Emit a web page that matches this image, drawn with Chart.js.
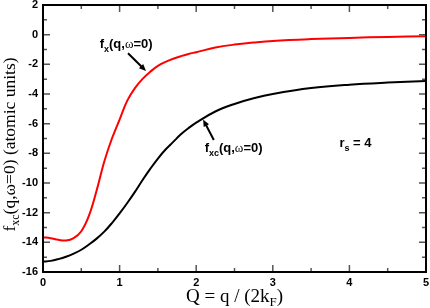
<!DOCTYPE html>
<html>
<head>
<meta charset="utf-8">
<script src="https://cdn.jsdelivr.net/npm/chart.js@4/dist/chart.umd.min.js"></script>
<style>
  html, body { margin: 0; padding: 0; background: #fff; }
  #wrap { width: 430px; height: 308px; position: relative; }
</style>
</head>
<body>
<div id="wrap"><canvas id="fxcChart"></canvas></div>
<script>
// values (Q = q / 2kF, atomic units)
const qValues = [0, 0.1, 0.2, 0.3, 0.4, 0.5, 0.6, 0.7, 0.8, 0.9, 1.0, 1.1, 1.2, 1.3, 1.4, 1.5, 1.6, 1.7, 1.8, 1.9, 2.0, 2.25, 2.5, 2.75, 3.0, 3.5, 4.0, 4.5, 5.0];
const fxValues = [-13.65, -13.72, -13.83, -13.88, -13.72, -13.25, -12.2, -10.5, -8.55, -7.0, -5.72, -4.45, -3.6, -2.98, -2.5, -2.1, -1.83, -1.62, -1.45, -1.3, -1.18, -0.87, -0.67, -0.53, -0.42, -0.3, -0.22, -0.15, -0.11];
const fxcValues = [-15.3, -15.25, -15.13, -14.97, -14.76, -14.5, -14.15, -13.75, -13.28, -12.7, -12.05, -11.35, -10.6, -9.8, -9.05, -8.35, -7.74, -7.23, -6.72, -6.3, -5.93, -5.18, -4.67, -4.29, -4.0, -3.6, -3.37, -3.23, -3.13];
const xTicks = [0, 1, 2, 3, 4, 5];
const yTicks = [2, 0, -2, -4, -6, -8, -10, -12, -14, -16];

const toPoints = (ys) => qValues.map((q, i) => ({ x: q, y: ys[i] }));

const serif = "'Liberation Serif', 'DejaVu Serif', serif";
const sans = "'Liberation Sans', Arial, sans-serif";

// draw a run of text pieces, some of them as subscripts
function drawRuns(ctx, x, y, runs) {
    runs.forEach(r => {
        ctx.font = r.font;
        const dy = r.sub ? r.sub : 0;
        ctx.fillText(r.t, x, y + dy);
        x += ctx.measureText(r.t).width;
    });
}

const frameAndTicks = {
    id: 'frameAndTicks',
    afterDraw(chart) {
        const { ctx, chartArea: a, scales } = chart;
        const xs = scales.x, ys = scales.y;
        ctx.save();

        // inward ticks on all four sides
        ctx.strokeStyle = '#555';
        ctx.lineWidth = 1.5;
        const xt = [];
        for (let v = 0; v <= 5; v += 0.5) xt.push(v);
        xt.forEach(v => {
            const px = xs.getPixelForValue(v);
            const len = Number.isInteger(v) ? 7 : 4;
            ctx.beginPath();
            ctx.moveTo(px, a.bottom); ctx.lineTo(px, a.bottom - len);
            ctx.moveTo(px, a.top); ctx.lineTo(px, a.top + len);
            ctx.stroke();
        });
        for (let v = -16; v <= 2; v += 1) {
            const py = ys.getPixelForValue(v);
            const len = v % 2 === 0 ? 7 : 4;
            ctx.beginPath();
            ctx.moveTo(a.left, py); ctx.lineTo(a.left + len, py);
            ctx.moveTo(a.right, py); ctx.lineTo(a.right - len, py);
            ctx.stroke();
        }

        // frame
        ctx.strokeStyle = '#000';
        ctx.lineWidth = 2;
        ctx.strokeRect(a.left, a.top, a.right - a.left, a.bottom - a.top);

        // arrows
        const arrow = (x0, y0, x1, y1) => {
            const p0 = [xs.getPixelForValue(x0), ys.getPixelForValue(y0)];
            const p1 = [xs.getPixelForValue(x1), ys.getPixelForValue(y1)];
            const ang = Math.atan2(p1[1] - p0[1], p1[0] - p0[0]);
            ctx.strokeStyle = '#000';
            ctx.fillStyle = '#000';
            ctx.lineWidth = 2;
            ctx.beginPath();
            ctx.moveTo(p0[0], p0[1]);
            ctx.lineTo(p1[0] - 4 * Math.cos(ang), p1[1] - 4 * Math.sin(ang));
            ctx.stroke();
            ctx.beginPath();
            ctx.moveTo(p1[0], p1[1]);
            ctx.lineTo(p1[0] - 7 * Math.cos(ang) + 3 * Math.sin(ang), p1[1] - 7 * Math.sin(ang) - 3 * Math.cos(ang));
            ctx.lineTo(p1[0] - 7 * Math.cos(ang) - 3 * Math.sin(ang), p1[1] - 7 * Math.sin(ang) + 3 * Math.cos(ang));
            ctx.closePath();
            ctx.fill();
        };
        arrow(1.11, -1.25, 1.345, -2.45);
        arrow(2.23, -7.1, 2.09, -5.72);

        // annotations
        ctx.fillStyle = '#000';
        ctx.textBaseline = 'alphabetic';
        ctx.textAlign = 'left';
        const b13 = 'bold 13px ' + sans, b9 = 'bold 9px ' + sans, om = '13px ' + serif;
        drawRuns(ctx, xs.getPixelForValue(0.74), ys.getPixelForValue(-0.91), [
            { t: 'f', font: b13 }, { t: 'x', font: b9, sub: 4 },
            { t: '(q,', font: b13 }, { t: 'ω', font: om }, { t: '=0)', font: b13 }
        ]);
        drawRuns(ctx, xs.getPixelForValue(2.11), ys.getPixelForValue(-7.88), [
            { t: 'f', font: b13 }, { t: 'xc', font: b9, sub: 4 },
            { t: '(q,', font: b13 }, { t: 'ω', font: om }, { t: '=0)', font: b13 }
        ]);
        drawRuns(ctx, xs.getPixelForValue(3.87), ys.getPixelForValue(-7.55), [
            { t: 'r', font: b13 }, { t: 's', font: b9, sub: 4 }, { t: ' = 4', font: b13 }
        ]);

        // x axis title
        const f19 = '19px ' + serif, f13 = '13px ' + serif;
        ctx.font = f19;
        let w = ctx.measureText('Q = q / (2k').width + ctx.measureText(')').width;
        ctx.font = f13; w += ctx.measureText('F').width;
        let tx = (a.left + a.right) / 2 - w / 2;
        drawRuns(ctx, tx, 302, [
            { t: 'Q = q / (2k', font: f19 }, { t: 'F', font: f13, sub: 4 }, { t: ')', font: f19 }
        ]);

        // y axis title, rotated
        const f18 = '17.5px ' + serif, f12 = '12px ' + serif;
        ctx.save();
        ctx.translate(14.5, (a.top + a.bottom) / 2 + 6);
        ctx.rotate(-Math.PI / 2);
        const yRuns = [
            { t: 'f', font: f18 }, { t: 'xc', font: f12, sub: 4 }, { t: '(q,ω=0) (atomic units)', font: f18 }
        ];
        let yw = 0;
        yRuns.forEach(r => { ctx.font = r.font; yw += ctx.measureText(r.t).width; });
        drawRuns(ctx, -yw / 2, 0, yRuns);
        ctx.restore();

        ctx.restore();
    }
};

new Chart(document.getElementById('fxcChart'), {
    type: 'line',
    data: {
        datasets: [
            {
                label: 'fx(q,ω=0)',
                data: toPoints(fxValues),
                borderColor: '#ff0000',
                borderWidth: 2,
                pointRadius: 0,
                tension: 0.4,
                fill: false
            },
            {
                label: 'fxc(q,ω=0)',
                data: toPoints(fxcValues),
                borderColor: '#000000',
                borderWidth: 2,
                pointRadius: 0,
                tension: 0.4,
                fill: false
            }
        ]
    },
    options: {
        responsive: true,
        maintainAspectRatio: false,
        animation: false,
        events: [],
        layout: { padding: { top: 5, right: 4, left: 0, bottom: 0 } },
        plugins: {
            legend: { display: false },
            tooltip: { enabled: false }
        },
        scales: {
            x: {
                type: 'linear',
                min: 0,
                max: 5,
                afterBuildTicks: (s) => { s.ticks = xTicks.map(v => ({ value: v })); },
                afterFit: (s) => { s.height = 36; s.paddingLeft = 0; s.paddingRight = 0; },
                grid: { display: false, drawTicks: false },
                border: { display: false },
                ticks: {
                    color: '#000',
                    padding: 4,
                    maxRotation: 0,
                    font: { family: sans, size: 11, weight: 'bold' }
                }
            },
            y: {
                min: -16,
                max: 2,
                afterBuildTicks: (s) => { s.ticks = yTicks.map(v => ({ value: v })); },
                afterFit: (s) => { s.width = 43; s.paddingTop = 0; s.paddingBottom = 0; },
                grid: { display: false, drawTicks: false },
                border: { display: false },
                ticks: {
                    color: '#000',
                    padding: 5,
                    font: { family: sans, size: 11, weight: 'bold' }
                }
            }
        }
    },
    plugins: [frameAndTicks]
});
</script>
</body>
</html>
